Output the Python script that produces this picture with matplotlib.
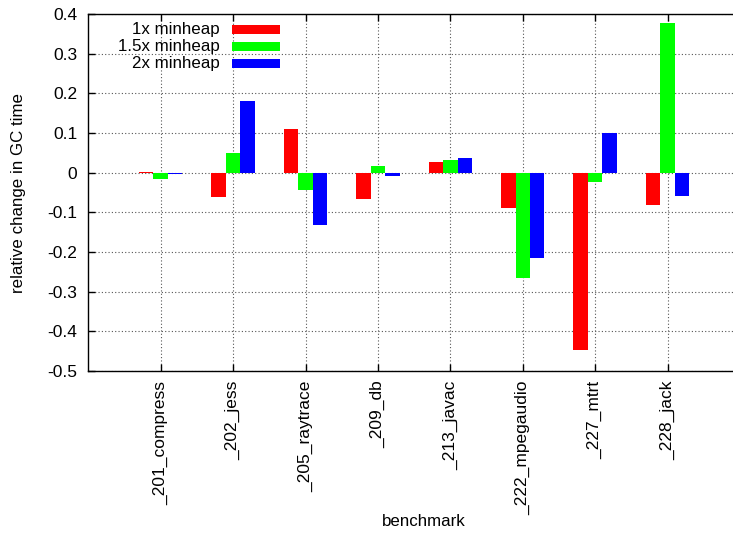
import matplotlib
matplotlib.use("Agg")
import matplotlib.pyplot as plt
from matplotlib.patches import Rectangle
import numpy as np

plt.rcParams['font.family'] = ['Liberation Sans', 'DejaVu Sans']

benchmarks = ["_201_compress", "_202_jess", "_205_raytrace", "_209_db",
              "_213_javac", "_222_mpegaudio", "_227_mtrt", "_228_jack"]
series_names = ["1x minheap", "1.5x minheap", "2x minheap"]
heap_1x = [0.002, -0.061, 0.109, -0.066, 0.028, -0.090, -0.446, -0.081]
heap_15x = [-0.015, 0.050, -0.043, 0.016, 0.031, -0.266, -0.023, 0.377]
heap_2x = [-0.003, 0.180, -0.132, -0.008, 0.036, -0.215, 0.101, -0.058]
colors = ["#ff0000", "#00ff00", "#0000ff"]
yticks = [-0.5, -0.4, -0.3, -0.2, -0.1, 0, 0.1, 0.2, 0.3, 0.4]
ytick_labels = ["-0.5", "-0.4", "-0.3", "-0.2", "-0.1", "0", "0.1", "0.2", "0.3", "0.4"]

W, H = 733, 533
fig = plt.figure(figsize=(W / 100, H / 100), dpi=100)
ax_l, ax_r, ax_t, ax_b = 88.3, 740, 14, 371
ax = fig.add_axes([ax_l / W, (H - ax_b) / H, (ax_r - ax_l) / W, (ax_b - ax_t) / H])

x = np.arange(len(benchmarks))
width = 0.2
for i, (vals, c) in enumerate(zip([heap_1x, heap_15x, heap_2x], colors)):
    ax.bar(x + (i - 1) * width, vals, width=width, color=c, edgecolor='none', zorder=3)

ax.set_xlim(-1, 8.0)
ax.set_ylim(-0.5, 0.4)
ax.set_yticks(yticks)
ax.set_yticklabels(ytick_labels, fontsize=12.5)
ax.set_xticks(x)
ax.set_xticklabels(benchmarks, rotation=90, fontsize=12.5, ha='center', va='top')
ax.tick_params(axis='both', direction='in', length=5, width=1, top=True, right=False)
ax.tick_params(axis='y', pad=8)
ax.tick_params(axis='x', pad=7)
ax.grid(True, linestyle=(0, (1, 2)), color='#555555', linewidth=0.8, zorder=0)
ax.set_axisbelow(True)
for s in ['left', 'bottom', 'top']:
    ax.spines[s].set_linewidth(1.0)
ax.spines['right'].set_visible(False)

ax.set_ylabel("relative change in GC time", fontsize=12.2)
ax.yaxis.set_label_coords((26 - ax_l) / (ax_r - ax_l), (ax_b - 193) / (ax_b - ax_t))
fig.text(424 / W, 1 - 521 / H, "benchmark", fontsize=12.2, ha='center', va='center')

# legend (gnuplot style: text right-aligned, swatch on right)
aw = ax_r - ax_l
ah = ax_b - ax_t
rows_y = [29.5, 46.5, 63.5]
for name, c, ry in zip(series_names, colors, rows_y):
    ax.text((220 - ax_l) / aw, 1 - (ry - ax_t) / ah, name, transform=ax.transAxes,
            ha='right', va='center', fontsize=12.2, zorder=5)
    ax.add_patch(Rectangle(((232 - ax_l) / aw, 1 - (ry + 4.5 - ax_t) / ah),
                           48 / aw, 9 / ah, transform=ax.transAxes,
                           facecolor=c, edgecolor='none', zorder=5))

fig.savefig("out.png", dpi=100)
